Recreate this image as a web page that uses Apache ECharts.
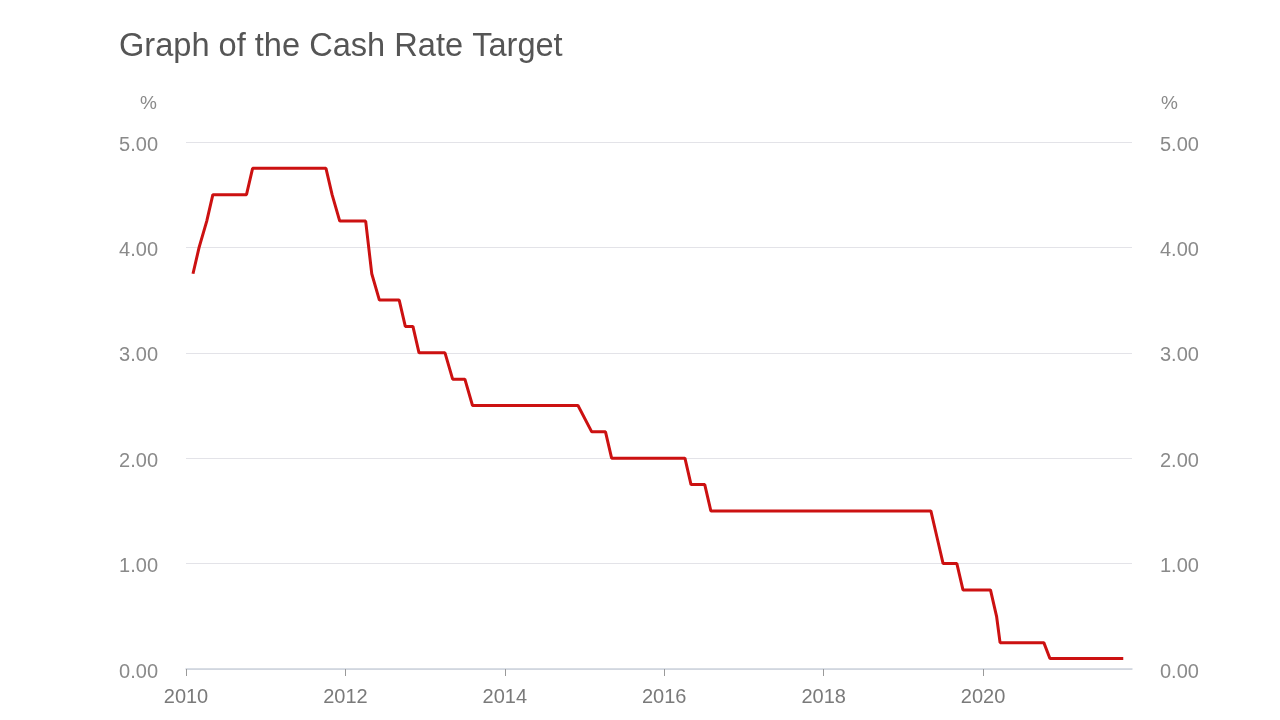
<!DOCTYPE html>
<html>
<head>
<meta charset="utf-8">
<script src="https://cdn.jsdelivr.net/npm/echarts@6/dist/echarts.min.js"></script>
<style>html,body{margin:0;padding:0;background:#fff}#c{width:1280px;height:720px}</style>
</head>
<body>
<div id="c"></div>
<script>
// RBA meeting dates where the cash rate line changes direction
const dates = [
  '2010-02-02','2010-03-02','2010-04-06','2010-05-04','2010-10-05','2010-11-02',
  '2011-10-04','2011-11-01','2011-12-06',
  '2012-04-03','2012-05-01','2012-06-05','2012-09-04','2012-10-02','2012-11-06','2012-12-04',
  '2013-04-02','2013-05-07','2013-07-02','2013-08-06',
  '2014-12-02','2015-02-03','2015-04-07','2015-05-05',
  '2016-04-05','2016-05-03','2016-07-05','2016-08-02',
  '2019-05-07','2019-06-04','2019-07-02','2019-09-03','2019-10-01',
  '2020-02-04','2020-03-03','2020-03-19','2020-10-06','2020-11-03',
  '2021-10-05'
];
const cashRate = [
  3.75,4.00,4.25,4.50,4.50,4.75,
  4.75,4.50,4.25,
  4.25,3.75,3.50,3.50,3.25,3.25,3.00,
  3.00,2.75,2.75,2.50,
  2.50,2.25,2.25,2.00,
  2.00,1.75,1.75,1.50,
  1.50,1.25,1.00,1.00,0.75,
  0.75,0.50,0.25,0.25,0.10,
  0.10
];
const yearTicks = [2010,2012,2014,2016,2018,2020];
const xMaxDate = '2021-11-14';
const titleText = 'Graph of the Cash Rate Target';

// convert a date string to a decimal year for the value axis
function decYear(s){
  const p = s.split('-').map(Number);
  const t = Date.UTC(p[0], p[1]-1, p[2]);
  const a = Date.UTC(p[0],0,1), b = Date.UTC(p[0]+1,0,1);
  return p[0] + (t-a)/(b-a);
}
const seriesData = dates.map((d,i) => [decYear(d), cashRate[i]]);
const font = 'Liberation Sans, Arial, sans-serif';

const yAxisBase = {
  type:'value', min:0, max:5, interval:1,
  axisLine:{show:false}, axisTick:{show:false},
  splitLine:{show:true, lineStyle:{color:'#e3e3e8', width:1}},
  axisLabel:{color:'#8a8a8a', fontSize:20, fontFamily:font, margin:28,
    verticalAlign:'top', lineHeight:6,
    formatter: v => v.toFixed(2)},
  name:'%', nameLocation:'end', nameGap:29
};

const chart = echarts.init(document.getElementById('c'), null, {renderer:'canvas'});
chart.setOption({
  animation:false,
  backgroundColor:'#ffffff',
  title:{text:titleText, left:114, top:26,
    textStyle:{color:'#555555', fontSize:32.6, fontWeight:'normal', fontFamily:font}},
  grid:{left:186, right:148, top:142, bottom:51, containLabel:false},
  xAxis:{
    type:'value', min:yearTicks[0], max:decYear(xMaxDate), interval:2,
    axisLine:{show:true, onZero:false, lineStyle:{color:'#ccd2dc', width:1.5}},
    axisTick:{show:true, length:7, lineStyle:{color:'#9a9a9a'}, customValues:yearTicks},
    axisLabel:{color:'#7a7a7a', fontSize:20, fontFamily:font, margin:18,
      customValues:yearTicks, formatter: v => String(Math.round(v))},
    splitLine:{show:false}
  },
  yAxis:[
    Object.assign({}, yAxisBase, {position:'left',
      nameTextStyle:{color:'#8a8a8a', fontSize:19, fontFamily:font, align:'right', padding:[0,29,0,0]}}),
    Object.assign({}, yAxisBase, {position:'right',
      nameTextStyle:{color:'#8a8a8a', fontSize:19, fontFamily:font, align:'left', padding:[0,0,0,29]}})
  ],
  series:[{
    type:'line', data:seriesData, yAxisIndex:0,
    showSymbol:false, symbol:'none',
    lineStyle:{color:'#cc1111', width:3},
    itemStyle:{color:'#cc1111'}
  }]
});
</script>
</body>
</html>
